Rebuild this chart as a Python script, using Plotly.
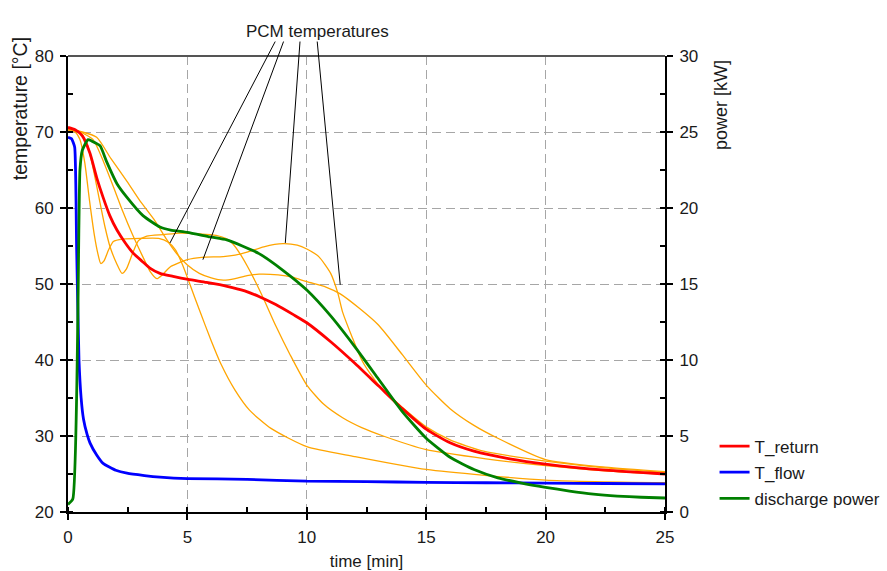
import plotly.graph_objects as go

# ---- data ----
t_return = [0, 0.3, 0.6, 0.92, 1.2, 1.47, 1.75, 2.05, 2.4, 2.72, 3.1, 3.43, 3.85, 4.4, 5.03, 5.8,
            6.66, 7.4, 8.04, 8.7, 9.42, 10, 11, 12, 13, 14, 15, 16, 17, 18.5, 20, 22.5, 25]
T_return = [70.6, 70.3, 69.5, 67.2, 64.0, 61.4, 59.0, 57.1, 55.4, 54.1, 53.0, 52.1, 51.4, 51.0, 50.6, 50.2,
            49.7, 49.1, 48.3, 47.3, 46.0, 44.9, 42.4, 39.6, 36.6, 33.6, 30.9, 29.1, 28.0, 27.0, 26.3, 25.5, 25.0]

t_flow = [0, 0.15, 0.28, 0.36, 0.46, 0.55, 0.65, 0.8, 0.92, 1.2, 1.47, 2.0, 2.47, 3.2, 3.85, 5, 7.5, 10,
          12.5, 15, 17.5, 20, 22.5, 25]
T_flow = [69.3, 69.1, 68.0, 55.0, 40.0, 35.0, 32.2, 30.2, 29.1, 27.5, 26.4, 25.5, 25.1, 24.8, 24.6, 24.4,
          24.3, 24.05, 24.0, 23.9, 23.85, 23.8, 23.75, 23.7]

t_power = [0, 0.2, 0.5, 0.6, 0.84, 1.0, 1.34, 1.63, 2.05, 2.47, 3.14, 3.85, 4.3, 5.0, 5.95, 6.65, 7.3, 8.0,
           9.0, 10, 11, 12, 13, 14, 15, 16, 17, 18, 19, 20, 21, 22, 23, 24, 25]
P_power = [0.5, 0.85, 22.5, 23.8, 24.5, 24.4, 24.1, 23.0, 21.6, 20.7, 19.5, 18.75, 18.55, 18.4, 18.1, 17.9,
           17.5, 17.0, 15.9, 14.6, 12.9, 10.9, 8.75, 6.6, 4.85, 3.6, 2.8, 2.25, 1.9, 1.62, 1.38, 1.18, 1.05,
           0.97, 0.92]

t_pcm1 = [0, 0.3, 0.5, 0.7, 0.9, 1.1, 1.25, 1.37, 1.5, 1.7, 1.9, 2.3, 3.0, 3.8, 4.2, 4.5, 4.8, 5.1, 5.5,
          6.0, 6.4, 7.0, 7.6, 8.5, 10, 12, 15, 20, 25]
T_pcm1 = [70.3, 70.0, 69.0, 66.0, 61.0, 56.5, 54.0, 52.7, 53.0, 54.5, 55.6, 55.9, 56.0, 56.0, 55.5, 54.5,
          52.5, 50.0, 46.6, 42.5, 39.5, 36.0, 33.4, 31.0, 28.6, 27.3, 25.6, 24.2, 23.85]

t_pcm2 = [0, 0.5, 0.8, 1.0, 1.34, 1.55, 1.76, 2.05, 2.26, 2.45, 2.7, 2.95, 3.3, 4.0, 4.7, 5.5, 6.2, 6.6,
          6.9, 7.2, 7.5, 7.85, 8.2, 8.7, 9.3, 10, 10.7, 11.5, 12.3, 13.2, 15, 17.5, 20, 22.5, 25]
T_pcm2 = [70.5, 70.0, 68.5, 66.0, 60.7, 57.5, 54.9, 52.6, 51.4, 52.0, 54.0, 55.7, 56.3, 56.5, 56.7, 56.6,
          56.4, 56.0, 55.3, 54.0, 52.4, 50.3, 48.0, 44.5, 40.7, 36.7, 34.2, 32.4, 31.1, 30.0, 28.2, 27.0,
          26.1, 25.4, 24.95]

t_pcm3 = [0, 0.5, 1.05, 1.5, 1.9, 2.3, 2.7, 3.1, 3.45, 3.72, 3.95, 4.3, 5.0, 5.6, 6.5, 7.0, 7.5, 8.2, 9.0,
          9.6, 10, 10.5, 11, 11.3, 11.5, 11.9, 12.3, 12.7, 13.2, 13.8, 15, 16, 17.4, 20, 22.5, 25]
T_pcm3 = [70.3, 70.0, 69.0, 66.0, 62.8, 59.5, 56.5, 53.8, 51.6, 50.7, 51.2, 52.3, 53.2, 53.5, 53.6, 53.8,
          54.2, 54.9, 55.3, 55.1, 54.6, 53.6, 51.4, 48.8, 46.3, 43.0, 40.0, 38.0, 36.0, 34.3, 31.2, 29.5,
          28.0, 26.7, 25.8, 25.2]

t_pcm4 = [0, 0.6, 1.2, 1.8, 2.47, 3.0, 3.6, 4.1, 4.55, 5.0, 5.5, 6.0, 6.5, 7.0, 7.5, 8.0, 8.8, 9.4, 10,
          10.8, 11.4, 12.2, 13.0, 14, 15, 16, 17, 18, 20, 22.5, 25]
T_pcm4 = [70.3, 70.0, 69.3, 66.5, 63.5, 61.0, 58.5, 56.0, 54.0, 52.5, 51.4, 50.8, 50.5, 50.7, 51.1, 51.3,
          51.2, 50.9, 50.3, 49.6, 48.7, 46.8, 44.6, 40.7, 36.7, 33.6, 31.4, 29.7, 26.9, 25.9, 25.3]

# annotation pointer targets (time, temperature) and label
pcm_label = "PCM temperatures"
pcm_ptr_t = [4.27, 5.65, 9.1, 11.4]
pcm_ptr_T = [55.4, 53.2, 55.4, 49.9]
pcm_tail_t = [8.71, 9.05, 9.72, 10.43]

x_ticks = [0, 5, 10, 15, 20, 25]
y_ticks = [20, 30, 40, 50, 60, 70, 80]
y2_ticks = [0, 5, 10, 15, 20, 25, 30]

FONT = "Liberation Sans, Arial, sans-serif"
FS = 17
TXT = "#1a1a1a"
ORANGE = "#ffa500"

fig = go.Figure()
for tt, TT in [(t_pcm1, T_pcm1), (t_pcm2, T_pcm2), (t_pcm3, T_pcm3), (t_pcm4, T_pcm4)]:
    fig.add_trace(go.Scatter(x=tt, y=TT, mode="lines", showlegend=False, hoverinfo="skip",
                             line=dict(color=ORANGE, width=1.3, shape="spline", smoothing=0.6)))
fig.add_trace(go.Scatter(x=t_return, y=T_return, mode="lines", name="T_return", legendgroup="a",
                         line=dict(color="#ff0000", width=2.8, shape="spline", smoothing=0.6)))
fig.add_trace(go.Scatter(x=t_flow, y=T_flow, mode="lines", name="T_flow", legendgroup="b",
                         line=dict(color="#0000ff", width=2.8, shape="spline", smoothing=0.4)))
fig.add_trace(go.Scatter(x=t_power, y=P_power, mode="lines", name="discharge power", yaxis="y2",
                         legendgroup="c",
                         line=dict(color="#008000", width=2.8, shape="spline", smoothing=0.5)))

axis_common = dict(showline=True, linecolor="black", linewidth=2, ticks="outside", ticklen=6,
                   tickwidth=1.5, tickcolor="black", zeroline=False, ticklabelstandoff=3,
                   automargin=False,
                   tickfont=dict(family=FONT, size=FS, color=TXT))
# inside halves of the major ticks (so major ticks cross the axis lines)
inner_common = dict(showline=False, showgrid=False, zeroline=False, showticklabels=False,
                    ticks="inside", ticklen=6, tickwidth=1.5, tickcolor="black", automargin=False)

fig.update_layout(
    width=887, height=571,
    margin=dict(l=68, r=222, t=56, b=59, autoexpand=False),
    paper_bgcolor="white", plot_bgcolor="white",
    font=dict(family=FONT, size=FS, color=TXT),
    xaxis=dict(range=[0, 25], tickvals=x_ticks, showgrid=True, gridcolor="#a6a6a6",
               griddash="9px,5px", gridwidth=1,
               minor=dict(dtick=2.5, ticks="inside", ticklen=5, tickcolor="black", showgrid=False),
               title=dict(text="time [min]", font=dict(family=FONT, size=FS), standoff=10),
               **axis_common),
    yaxis=dict(range=[20, 80], tickvals=y_ticks, showgrid=True, gridcolor="#a6a6a6",
               griddash="9px,5px", gridwidth=1,
               minor=dict(dtick=5, ticks="inside", ticklen=5, tickcolor="black", showgrid=False),
               **axis_common),
    yaxis2=dict(range=[0, 30], tickvals=y2_ticks, overlaying="y", side="right", showgrid=False,
                minor=dict(dtick=2.5, ticks="inside", ticklen=5, tickcolor="black", showgrid=False),
                **axis_common),
    xaxis3=dict(range=[0, 25], tickvals=x_ticks, overlaying="x", anchor="y", side="bottom",
                **inner_common),
    yaxis3=dict(range=[20, 80], tickvals=y_ticks, overlaying="y", anchor="x", side="left",
                **inner_common),
    yaxis4=dict(range=[0, 30], tickvals=y2_ticks, overlaying="y", anchor="x", side="right",
                **inner_common),
    legend=dict(x=1.083, y=0.183, xanchor="left", yanchor="top", traceorder="grouped",
                tracegroupgap=1, font=dict(family=FONT, size=FS, color=TXT),
                bgcolor="rgba(0,0,0,0)"),
    showlegend=True,
)

# top border
fig.add_shape(type="line", xref="paper", yref="paper", x0=0, x1=1, y0=1, y1=1,
              line=dict(color="#555555", width=2))

# axis titles placed near the top like the reference
fig.add_annotation(text="temperature [°C]", xref="paper", yref="paper", x=-0.081, y=1.046,
                   xanchor="center", yanchor="top", textangle=-90, showarrow=False,
                   font=dict(family=FONT, size=19.5, color=TXT))
fig.add_annotation(text="power [kW]", xref="paper", yref="paper", x=1.095, y=0.995,
                   xanchor="center", yanchor="top", textangle=-90, showarrow=False,
                   font=dict(family=FONT, size=18, color=TXT))

# PCM label and pointer lines
fig.add_annotation(text=pcm_label, xref="x", yref="paper", x=10.43, y=1.079, showarrow=False,
                   font=dict(family=FONT, size=FS, color=TXT))
for xt, yt, xs in zip(pcm_ptr_t, pcm_ptr_T, pcm_tail_t):
    fig.add_annotation(x=xt, y=yt, xref="x", yref="y", ax=xs, ay=82.1, axref="x", ayref="y",
                       text="", showarrow=True, arrowhead=0, arrowwidth=1, arrowcolor="black",
                       standoff=0, startstandoff=0)

fig.write_html("out.html")
